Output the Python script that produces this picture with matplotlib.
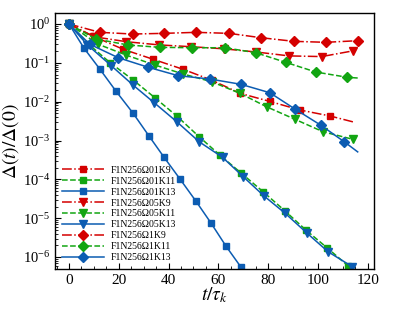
import numpy as np
import matplotlib
matplotlib.use('Agg')
import matplotlib.pyplot as plt
from matplotlib.ticker import LogLocator, MultipleLocator, NullFormatter

# valores (t/tau_k, Delta(t)/Delta(0))
t_01K9 = [0, 9.9, 21.8, 33.9, 45.9, 57.5, 68.8, 80.6, 92.8, 104.8, 114.3]
d_01K9 = [1.0, 0.48, 0.223, 0.123, 0.068, 0.0355, 0.0164, 0.0102, 0.0061, 0.0043, 0.0030]

t_01K11 = [0, 7.8, 16.5, 25.8, 34.5, 43.3, 52.3, 60.6, 69.3, 78.0, 86.7, 95.2, 103.7, 112.2]
d_01K11 = [1.0, 0.305, 0.101, 0.0361, 0.01265, 0.00428, 0.00125, 4.23e-4, 1.43e-4,
           4.8e-5, 1.56e-5, 4.95e-6, 1.73e-6, 5.9e-7]

t_01K13 = [0, 6.0, 12.4, 18.9, 25.7, 32.1, 38.2, 44.6, 51.0, 57.0, 63.1, 69.1]
d_01K13 = [1.0, 0.24, 0.069, 0.0186, 0.0051, 0.00132, 3.7e-4, 1.02e-4, 2.75e-5,
           7.6e-6, 1.9e-6, 5.5e-7]

t_05K9 = [0, 10.0, 23.1, 36.1, 49.2, 62.2, 75.3, 88.4, 101.5, 114.2]
d_05K9 = [1.0, 0.47, 0.35, 0.29, 0.26, 0.23, 0.19, 0.151, 0.145, 0.204]

t_05K11 = [0, 11.5, 23.0, 34.5, 45.9, 57.3, 68.7, 79.4, 90.8, 102.1, 114.2]
d_05K11 = [1.0, 0.305, 0.158, 0.088, 0.0515, 0.0327, 0.0164, 0.0074, 0.00352,
           0.00168, 0.00107]

t_05K13 = [0, 7.4, 16.9, 25.7, 34.3, 43.3, 52.3, 61.7, 70.0, 78.4, 86.9, 95.5, 104.1, 113.9]
d_05K13 = [1.0, 0.29, 0.0853, 0.0269, 0.00933, 0.00305, 9.3e-4, 3.69e-4, 1.17e-4,
           3.72e-5, 1.33e-5, 4.2e-6, 1.37e-6, 5.6e-7]

t_1K9 = [0, 12.4, 25.6, 38.3, 51.0, 64.3, 77.1, 90.4, 103.2, 116.1]
d_1K9 = [1.0, 0.61, 0.552, 0.575, 0.61, 0.575, 0.444, 0.358, 0.338, 0.372]

t_1K11 = [0, 10.8, 23.8, 36.5, 49.6, 62.7, 75.1, 87.1, 99.2, 111.9, 116.0]
d_1K11 = [1.0, 0.411, 0.288, 0.251, 0.245, 0.245, 0.182, 0.103, 0.058, 0.0424, 0.0407]

t_1K13 = [0, 8.4, 19.8, 31.9, 43.9, 56.6, 69.1, 80.7, 90.8, 101.1, 110.6, 116.0]
d_1K13 = [1.0, 0.30, 0.1355, 0.0767, 0.0467, 0.0384, 0.028, 0.017, 0.00647,
          0.0025, 0.00093, 0.00051]

labels = ['F1N256Ω01K9', 'F1N256Ω01K11', 'F1N256Ω01K13',
          'F1N256Ω05K9', 'F1N256Ω05K11', 'F1N256Ω05K13',
          'F1N256Ω1K9', 'F1N256Ω1K11', 'F1N256Ω1K13']

vermelho = '#d40000'
verde = '#12a512'
azul = '#0c5cb2'

plt.rcParams['font.family'] = 'serif'
plt.rcParams['font.serif'] = ['Liberation Serif', 'DejaVu Serif']
plt.rcParams['mathtext.fontset'] = 'stix'

fig = plt.figure(figsize=(3.99, 3.10), dpi=100)
ax = fig.add_axes([0.138, 0.132, 0.799, 0.826])

series = [
    (t_01K9, d_01K9, vermelho, '-.', 's', 4.6),
    (t_01K11, d_01K11, verde, '--', 's', 4.6),
    (t_01K13, d_01K13, azul, '-', 's', 4.6),
    (t_05K9, d_05K9, vermelho, '-.', 'v', 5.4),
    (t_05K11, d_05K11, verde, '--', 'v', 5.4),
    (t_05K13, d_05K13, azul, '-', 'v', 5.4),
    (t_1K9, d_1K9, vermelho, '-.', 'D', 4.6),
    (t_1K11, d_1K11, verde, '--', 'D', 4.6),
    (t_1K13, d_1K13, azul, '-', 'D', 4.6),
]

# algumas curvas continuam um pouco depois do ultimo marcador
sem_ultimo = ('F1N256Ω01K9', 'F1N256Ω1K11', 'F1N256Ω1K13')

for i, (x, y, cor, estilo, marcador, tam) in enumerate(series):
    me = list(range(len(x)))
    if labels[i] in sem_ultimo:
        me = me[:-1]
    ax.plot(x, y, color=cor, linestyle=estilo, linewidth=1.1,
            marker=marcador, markersize=tam, markevery=me, label=labels[i])

ax.set_yscale('log')
ax.set_xlim(-5.6, 122.5)
ax.set_ylim(10**-6.31, 10**0.283)

ax.xaxis.set_major_locator(MultipleLocator(20))
ax.xaxis.set_minor_locator(MultipleLocator(5))
ax.yaxis.set_major_locator(LogLocator(base=10, numticks=12))
ax.yaxis.set_minor_locator(LogLocator(base=10, subs=np.arange(2, 10), numticks=12))
ax.yaxis.set_minor_formatter(NullFormatter())

ax.tick_params(which='both', direction='in', top=False, right=False, labelsize=11)
ax.tick_params(which='major', length=4, width=0.8)
ax.tick_params(which='minor', length=2, width=0.6)
ax.tick_params(axis='y', labelsize=10.5)

for s in ax.spines.values():
    s.set_linewidth(1.0)

ax.set_xlabel(r'$t/\tau_k$', fontsize=14, labelpad=-1)
ax.set_ylabel(r'$\Delta(t)/\Delta(0)$', fontsize=14, labelpad=1)

ax.legend(loc='lower left', frameon=False, fontsize=7, handlelength=4.3,
          handletextpad=0.7, labelspacing=0.2, borderaxespad=0.3)

fig.savefig('out.png', dpi=100)
